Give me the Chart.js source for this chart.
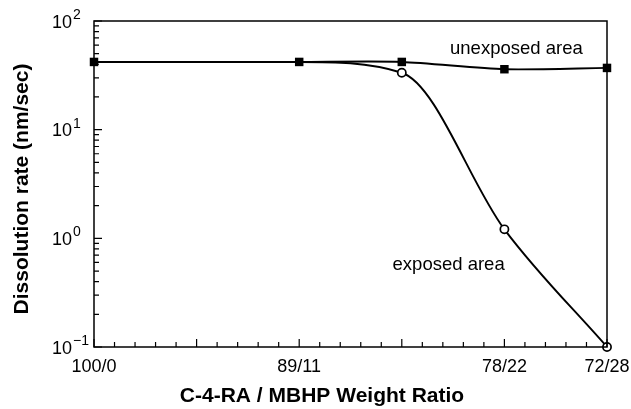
<!DOCTYPE html>
<html>
<head>
<meta charset="utf-8">
<script src="https://cdn.jsdelivr.net/npm/chart.js@4.4.0/dist/chart.umd.min.js"></script>
<style>
 html, body { margin: 0; padding: 0; background: #fff; }
</style>
</head>
<body>
<canvas id="chart1" width="631" height="409"></canvas>
<script>
// ratio axis: positions in major-tick units, and the labels shown there
const ratioPos = [0, 2, 4, 5];
const ratioLabels = ['100/0', '89/11', '78/22', '72/28'];

// unexposed area (filled squares)
const unexpX = [0, 2, 3, 4, 5];
const unexpY = [42, 42, 42, 36, 37];

// exposed area (open circles) - first two points sit under the squares
const expX = [0, 2, 3, 4, 5];
const expY = [42, 42, 33.4, 1.21, 0.1];
const expMarker = [false, false, true, true, true];

// decades on the log axis
const yDecades = [-1, 0, 1, 2];

// in-plot text labels, placed in data coords (x, y at baseline)
const noteText = ['unexposed area', 'exposed area'];
const noteX = [3.47, 2.91];
const noteY = [49.5, 0.51];

const FONT = '"Liberation Sans", Arial, Helvetica, sans-serif';

function toPoints(xs, ys) {
  return xs.map((x, i) => ({ x: x, y: ys[i] }));
}

// frame, inside ticks, log labels with superscripts, titles
const framePlugin = {
  id: 'frame',
  afterDraw(chart) {
    const ctx = chart.ctx;
    const a = chart.chartArea;
    const xs = chart.scales.x;
    const ys = chart.scales.y;
    ctx.save();
    ctx.strokeStyle = '#000';
    ctx.lineWidth = 1.5;
    ctx.strokeRect(a.left, a.top, a.right - a.left, a.bottom - a.top);

    // x ticks, pointing up into the plot
    ctx.lineWidth = 1.2;
    ctx.beginPath();
    for (let i = 0; i <= 25; i++) {
      const px = xs.getPixelForValue(i * 0.2);
      const len = (i % 5 === 0) ? 8 : 5;
      ctx.moveTo(px, a.bottom);
      ctx.lineTo(px, a.bottom - len);
    }
    // y ticks, pointing right into the plot
    yDecades.forEach(d => {
      for (let m = 1; m <= 9; m++) {
        const v = m * Math.pow(10, d);
        if (v > 100.0001) break;
        const py = ys.getPixelForValue(v);
        const len = (m === 1) ? 8 : 5;
        ctx.moveTo(a.left, py);
        ctx.lineTo(a.left + len, py);
      }
    });
    ctx.stroke();

    // y labels: 10 with exponent
    ctx.fillStyle = '#000';
    ctx.textBaseline = 'alphabetic';
    yDecades.forEach(d => {
      const py = ys.getPixelForValue(Math.pow(10, d));
      ctx.font = '18px ' + FONT;
      ctx.textAlign = 'right';
      ctx.fillText('10', a.left - 22, py + 6.5);
      ctx.font = '14px ' + FONT;
      ctx.textAlign = 'left';
      ctx.fillText(String(d).replace('-', '\u2212'), a.left - 21, py - 2);
    });

    // notes
    ctx.font = '18.5px ' + FONT;
    ctx.textAlign = 'left';
    noteText.forEach((t, i) => {
      ctx.fillText(t, xs.getPixelForValue(noteX[i]), ys.getPixelForValue(noteY[i]));
    });

    // axis titles
    ctx.font = 'bold 21px ' + FONT;
    ctx.textAlign = 'center';
    ctx.textBaseline = 'middle';
    ctx.fillText('C-4-RA / MBHP Weight Ratio', 322, 396);
    ctx.translate(22, 189);
    ctx.rotate(-Math.PI / 2);
    ctx.fillText('Dissolution rate (nm/sec)', 0, 0);
    ctx.restore();
  }
};

const ctx1 = document.getElementById('chart1').getContext('2d');
const RateGraph = new Chart(ctx1, {
  type: 'line',
  data: {
    datasets: [
      {
        label: 'exposed area',
        data: toPoints(expX, expY),
        borderColor: '#000',
        borderWidth: 1.9,
        fill: false,
        cubicInterpolationMode: 'monotone',
        pointStyle: 'circle',
        pointRadius: expMarker.map(m => m ? 4.1 : 0),
        pointBorderWidth: 1.7,
        pointBorderColor: '#000',
        pointBackgroundColor: '#fff',
        clip: false
      },
      {
        label: 'unexposed area',
        data: toPoints(unexpX, unexpY),
        borderColor: '#000',
        borderWidth: 1.9,
        fill: false,
        tension: 0.25,
        pointStyle: 'rect',
        pointRadius: 6,
        pointBorderWidth: 0,
        pointBackgroundColor: '#000',
        clip: false
      }
    ]
  },
  options: {
    responsive: false,
    animation: false,
    devicePixelRatio: 1,
    layout: { padding: { top: 21, right: 24, left: 0, bottom: 0 } },
    plugins: {
      legend: { display: false },
      tooltip: { enabled: false }
    },
    scales: {
      x: {
        type: 'linear',
        min: 0,
        max: 5,
        grid: { display: false, drawTicks: false },
        border: { display: false },
        afterBuildTicks: s => { s.ticks = ratioPos.map(v => ({ value: v })); },
        afterFit: s => { s.height = 62; s.paddingLeft = 0; s.paddingRight = 0; },
        ticks: {
          autoSkip: false,
          maxRotation: 0,
          padding: 9,
          color: '#000',
          font: { family: FONT, size: 18 },
          callback: v => {
            const i = ratioPos.indexOf(v);
            return i >= 0 ? ratioLabels[i] : '';
          }
        }
      },
      y: {
        type: 'logarithmic',
        min: 0.1,
        max: 100,
        grid: { display: false, drawTicks: false },
        border: { display: false },
        ticks: { display: false },
        afterFit: s => { s.width = 94; s.paddingTop = 0; s.paddingBottom = 0; }
      }
    }
  },
  plugins: [framePlugin]
});
</script>
</body>
</html>
